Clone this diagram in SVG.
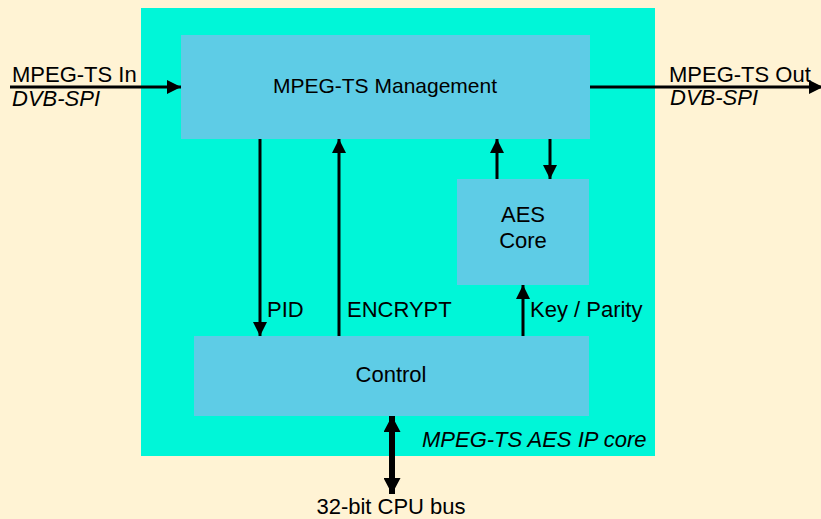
<svg xmlns="http://www.w3.org/2000/svg" width="821" height="519" viewBox="0 0 821 519">
<style>
text{font-family:"Liberation Sans",Arial,sans-serif;font-size:22px;fill:#000}
.it{font-style:italic}
.box{fill:#5ECCE6}
.ln{stroke:#000;stroke-width:3;fill:none}
.bus{stroke:#000;stroke-width:6;fill:none}
</style>
<defs>
<marker id="ah" markerUnits="userSpaceOnUse" markerWidth="14" markerHeight="14" refX="14" refY="7" orient="auto">
<path d="M0,0 L14,7 L0,14 Z" fill="#000"/>
</marker>
<marker id="bh" markerUnits="userSpaceOnUse" markerWidth="16" markerHeight="17" refX="16" refY="8.5" orient="auto-start-reverse">
<path d="M0,0 L16,8.5 L0,17 Z" fill="#000"/>
</marker>
</defs>
<rect x="0" y="0" width="821" height="519" fill="#FFF3D4"/>
<g id="ipcore">
<rect x="141" y="8" width="514" height="448" fill="#00F6D8"/>
<text class="it" x="422" y="447">MPEG-TS AES IP core</text>
</g>
<g id="mgmt">
<rect class="box" x="181" y="35" width="409" height="104"/>
<text x="385" y="93" text-anchor="middle" style="font-size:21px">MPEG-TS Management</text>
</g>
<g id="aes">
<rect class="box" x="457" y="179" width="132" height="106"/>
<text x="523" y="222" text-anchor="middle">AES</text>
<text x="523" y="248" text-anchor="middle">Core</text>
</g>
<g id="control">
<rect class="box" x="194" y="336" width="395" height="80"/>
<text x="391" y="382" text-anchor="middle">Control</text>
</g>
<g id="connectors">
<line class="ln" x1="10" y1="87" x2="181" y2="87" marker-end="url(#ah)"/>
<line class="ln" x1="590" y1="87" x2="823" y2="87" marker-end="url(#ah)"/>
<line class="ln" x1="260" y1="139" x2="260" y2="336" marker-end="url(#ah)"/>
<line class="ln" x1="339" y1="336" x2="339" y2="139" marker-end="url(#ah)"/>
<line class="ln" x1="497" y1="179" x2="497" y2="139" marker-end="url(#ah)"/>
<line class="ln" x1="550" y1="139" x2="550" y2="179" marker-end="url(#ah)"/>
<line class="ln" x1="523" y1="336" x2="523" y2="285" marker-end="url(#ah)"/>
<line class="bus" x1="392" y1="416" x2="392" y2="494" marker-start="url(#bh)" marker-end="url(#bh)"/>
</g>
<g id="labels">
<text x="12" y="82">MPEG-TS In</text>
<text class="it" x="12" y="106">DVB-SPI</text>
<text x="669" y="82">MPEG-TS Out</text>
<text class="it" x="670" y="105">DVB-SPI</text>
<text x="267" y="317">PID</text>
<text x="347" y="317">ENCRYPT</text>
<text x="530" y="317">Key / Parity</text>
<text x="391" y="514" text-anchor="middle">32-bit CPU bus</text>
</g>
</svg>
